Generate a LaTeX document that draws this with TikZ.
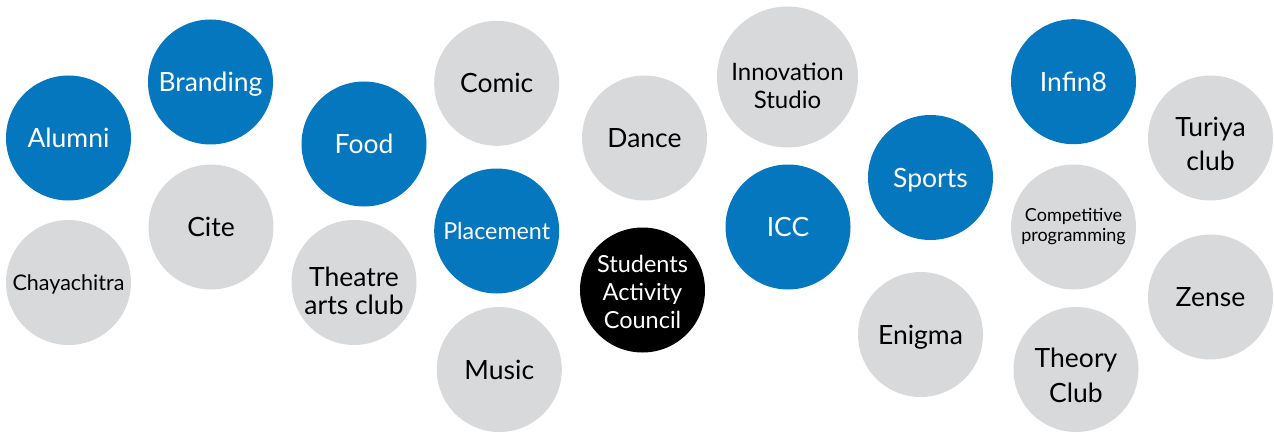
\documentclass[tikz,border=0pt]{standalone}
\usepackage{fontspec}
\setmainfont{Lato}
\definecolor{cblue}{HTML}{0477BF}
\definecolor{cgrey}{HTML}{D8D9DB}
\newcommand{\shtext}[2]{\raisebox{-#1}[\height][\depth]{\begin{tabular}{@{}c@{}}#2\end{tabular}}}
\tikzset{
  bub/.style={circle, minimum size=125pt, inner sep=0pt, align=center, font=\fontsize{26.5}{35}\selectfont},
  bblue/.style={bub, fill=cblue, text=white},
  bgrey/.style={bub, fill=cgrey, text=black},
  bblack/.style={bub, fill=black, text=white},
  oneline/.style={text height=#1, text depth=0pt},
  oneline/.default=19pt,
}
\begin{document}
\begin{tikzpicture}[x=1pt,y=-1pt]
\useasboundingbox (0,0) rectangle (1274,433);
\node[bblue, oneline] (alumni) at (68.5,138) {Alumni};
\node[bblue, oneline] (branding) at (210.5,82) {Branding};
\node[bgrey, oneline=15.5pt, font=\fontsize{21.5}{26}\selectfont] (chaya) at (68.5,282.5) {Chayachitra};
\node[bgrey, oneline] (cite) at (211,227) {Cite};
\node[bblue, oneline] (food) at (364,144) {Food};
\node[bgrey, font=\fontsize{26.5}{28}\selectfont] (theatre) at (354,282.5) {\shtext{12.5pt}{Theatre\\arts club}};
\node[bgrey, oneline] (comic) at (496.7,83.3) {Comic};
\node[bblue, oneline=16.8pt, font=\fontsize{23.3}{28}\selectfont] (placement) at (496.7,231) {Placement};
\node[bgrey, oneline] (music) at (499.3,369.5) {Music};
\node[bgrey, oneline] (dance) at (644.5,138) {Dance};
\node[bblack, font=\fontsize{23.5}{28}\selectfont] (sac) at (642.5,290) {\shtext{4.5pt}{Students\\Activity\\Council}};
\node[bgrey, minimum size=141pt, font=\fontsize{24}{28}\selectfont] (innov) at (787.5,77) {\shtext{12pt}{Innovation\\Studio}};
\node[bblue, oneline] (icc) at (788,227) {ICC};
\node[bblue, oneline] (sports) at (930.5,177.5) {Sports};
\node[bgrey, oneline] (enigma) at (920.5,334.5) {Enigma};
\node[bblue, oneline] (infin) at (1073.5,81.7) {Infin8};
\node[bgrey] (turiya) at (1210.5,138) {\shtext{8.5pt}{Turiya\\club}};
\node[bgrey, font=\fontsize{18}{20}\selectfont] (cp) at (1073.5,227) {\shtext{0pt}{Competitive\\programming}};
\node[bgrey, oneline] (zense) at (1210.5,297) {Zense};
\node[bgrey] (theory) at (1076,369.5) {\shtext{8pt}{Theory\\Club}};
\end{tikzpicture}
\end{document}
